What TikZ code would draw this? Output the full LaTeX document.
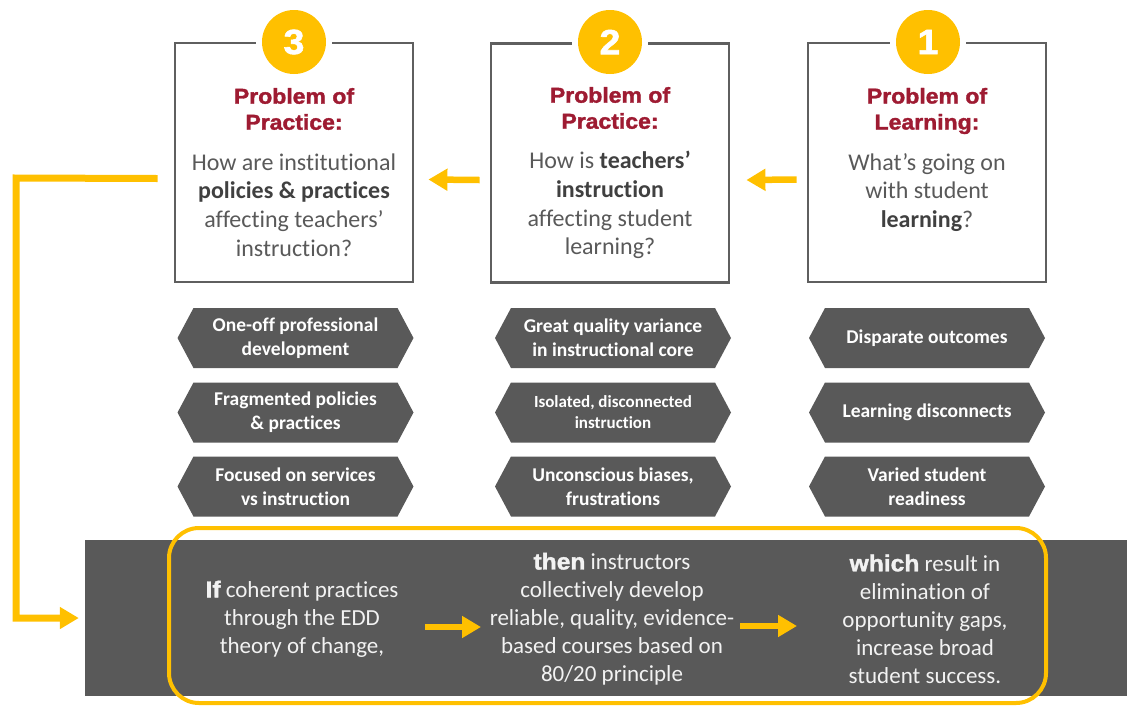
\documentclass[tikz,border=0pt]{standalone}
\usepackage{fontspec}
\setmainfont{Carlito}[Ligatures={TeX,NoCommon}]
\newfontfamily\headfont{Liberation Sans Bold}[FakeBold=1.6, FakeStretch=1.07]
\usetikzlibrary{arrows.meta}
\definecolor{ygold}{RGB}{255,192,0}
\definecolor{boxgray}{RGB}{95,95,95}
\definecolor{fillgray}{RGB}{89,89,89}
\definecolor{maroon}{RGB}{158,27,50}
\definecolor{bodytext}{RGB}{89,89,89}
\definecolor{darktext}{RGB}{64,64,64}
\definecolor{lighttext}{RGB}{242,242,242}
\newcommand\hexbox[5]{%
  \fill[fillgray] (#2-118,#3) -- (#2-102,#3-30) -- (#2+102,#3-30) -- (#2+118,#3)
    -- (#2+102,#3+30) -- (#2-102,#3+30) -- cycle;
  \node[hextext,#4] (#1) at (#2,#3) {#5};}
\begin{document}
\begin{tikzpicture}[x=1pt,y=-1pt,
  box/.style={draw=boxgray, line width=2.8pt, minimum width=238pt, minimum height=239pt, inner sep=0pt},
  halo/.style={circle, fill=white, minimum size=76pt, inner sep=0pt},
  numcirc/.style={circle, fill=ygold, minimum size=64pt, inner sep=0pt, text=white,
    font=\headfont\fontsize{35}{35}\selectfont},
  title/.style={align=center, text=maroon, inner sep=0pt,
    font=\headfont\fontsize{21.5}{26}\selectfont},
  body/.style={align=center, text=bodytext, inner sep=0pt,
    font=\fontsize{24}{28.7}\selectfont},
  hextext/.style={align=center, text=white, inner sep=0pt,
    font=\bfseries\fontsize{19.5}{24}\selectfont},
  small/.style={font=\bfseries\fontsize{17}{21}\selectfont},
  bandtext/.style={align=center, text=lighttext, inner sep=0pt,
    font=\fontsize{23}{28}\selectfont},
  yarrow/.style={draw=ygold, line width=6.5pt, -{Triangle[width=21pt,length=19pt]}},
  yline/.style={draw=ygold, line width=7pt}
]
\useasboundingbox (0,0) rectangle (1127,705);

% top boxes
\node[box] (b3) at (294,162.5) {};
\node[box] (b2) at (610,163) {};
\node[box] (b1) at (927,162.5) {};
\node[halo] (h3) at (294,42) {};
\node[halo] (h2) at (610,42) {};
\node[halo] (h1) at (928,42) {};
\node[numcirc] (n3) at (294,42) {3};
\node[numcirc] (n2) at (610,42) {2};
\node[numcirc] (n1) at (928,42) {1};

\node[title] (t3) at (294,109) {Problem of\\Practice:};
\node[title] (t2) at (610,108) {Problem of\\Practice:};
\node[title] (t1) at (927,111) {Problem of\\Learning:};

\node[body] (q3) at (294,205) {How are institutional\\{\bfseries\color{darktext}policies \& practices}\\affecting teachers’\\instruction?};
\node[body] (q2) at (610,205) {How is {\bfseries\color{darktext}teachers’}\\{\bfseries\color{darktext}instruction}\\affecting student\\learning?};
\node[body] (q1) at (927,192.5) {What’s going on\\with student\\{\bfseries\color{darktext}learning}?};

% arrows between boxes
\draw[yarrow] ([shift={(-10,17)}]b1.west) -- ([shift={(16,17)}]b2.east);
\draw[yarrow] ([shift={(-10,17)}]b2.west) -- ([shift={(14,17)}]b3.east);

% hexagons
\hexbox{p31}{295.5}{338}{}{One-off professional\\development}
\hexbox{p32}{295.5}{412.5}{}{Fragmented policies\\\& practices}
\hexbox{p33}{295.5}{486.5}{}{Focused on services\\vs instruction}
\hexbox{p21}{613}{338}{}{Great quality variance\\in instructional core}
\hexbox{p22}{613}{412.5}{small}{Isolated, disconnected\\instruction}
\hexbox{p23}{613}{486.5}{}{Unconscious biases,\\frustrations}
\hexbox{p11}{927}{338}{}{Disparate outcomes}
\hexbox{p12}{927}{412.5}{}{Learning disconnects}
\hexbox{p13}{927}{486.5}{}{Varied student\\readiness}

% bottom band
\node[fill=fillgray, minimum width=1042pt, minimum height=156pt, inner sep=0pt] (band) at (606,618) {};
\node[draw=ygold, line width=4pt, rounded corners=30pt, minimum width=877pt, minimum height=175pt, inner sep=0pt] (frame) at (607.5,615.5) {};

\node[bandtext] (c1) at (302,619) {{\headfont If} coherent practices\\through the EDD\\theory of change,};
\node[bandtext] (c2) at (612,619) {{\headfont then} instructors\\collectively develop\\reliable, quality, evidence-\\based courses based on\\80/20 principle};
\node[bandtext] (c3) at (925,619) {{\headfont which} result in\\elimination of\\opportunity gaps,\\increase broad\\student success.};

\coordinate (a1s) at (425,627);
\coordinate (a1e) at (481,627);
\coordinate (a2s) at (740,626);
\coordinate (a2e) at (797,626);
\draw[yarrow] (a1s) -- (a1e);
\draw[yarrow] (a2s) -- (a2e);

% feedback loop
\coordinate (fb1) at (16,178);
\coordinate (fb2) at (16,618);
\draw[yline] ([shift={(-16,16)}]b3.west) -- (fb1) -- (fb2) -- ([xshift=-22pt]band.west);
\draw[yarrow] ([xshift=-23pt]band.west) -- ([xshift=-6pt]band.west);
\end{tikzpicture}
\end{document}
